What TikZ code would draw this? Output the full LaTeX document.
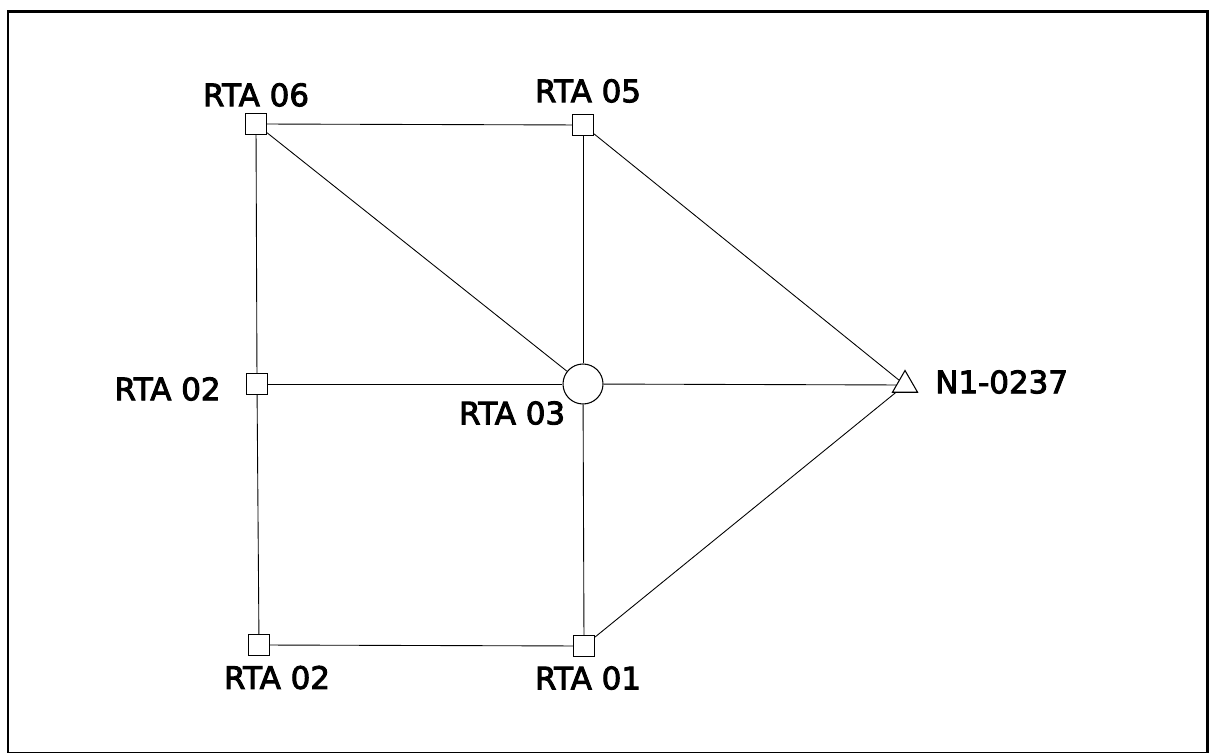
\documentclass[tikz,border=0pt]{standalone}
\usepackage{fontspec}
\setmainfont{DejaVu Sans}
\newfontfamily\tagfont{DejaVu Sans}[FakeBold=3]
\usetikzlibrary{positioning, shapes.geometric}
\tikzset{
  site/.style={draw, fill=white, line width=0.6pt, minimum size=0.42cm, inner sep=0pt},
  hub/.style={draw, circle, fill=white, line width=0.6pt, minimum size=0.8cm, inner sep=0pt},
  gauge/.style={draw, regular polygon, regular polygon sides=3, fill=white, line width=0.6pt, minimum size=0.58cm, inner sep=0pt},
  tag/.style={font=\tagfont\fontsize{17.6}{20}\selectfont, inner sep=0pt},
  link/.style={line width=0.5pt},
}

\begin{document}
\begin{tikzpicture}
    \useasboundingbox (0,0) rectangle (24.26,15.04);
    \draw[line width=1.7pt] (0.16,-0.02) rectangle (24.14,14.8);
    % stations
    \node[site] (r06) at (5.12,12.56) {};
    \node[site] (r05) at (11.66,12.54) {};
    \node[site] (r02) at (5.14,7.36) {};
    \node[hub] (r03) at (11.66,7.36) {};
    \node[gauge] (n1) at (18.1,7.34) {};
    \node[site] (r02b) at (5.18,2.14) {};
    \node[site] (r01) at (11.68,2.12) {};
    % names
    \node[tag, above=0.12cm of r06] (t06) {RTA 06};
    \node[tag, above=0.22cm of r05, xshift=0.1cm] (t05) {RTA 05};
    \node[tag, left=0.5cm of r02, yshift=-0.1cm] (t02) {RTA 02};
    \node[tag, below left=0.05cm and 0.06cm of r03] (t03) {RTA 03};
    \node[tag, right=0.42cm of n1, yshift=0.06cm] (tn1) {N1-0237};
    \node[tag, below=0.19cm of r02b, xshift=0.36cm] (t02b) {RTA 02};
    \node[tag, below=0.18cm of r01, xshift=0.08cm] (t01) {RTA 01};
    % links
    \draw[link] (r06) -- (r05);
    \draw[link] (r06) -- (r02);
    \draw[link] (r06) -- (r03);
    \draw[link] (r05) -- (r03);
    \draw[link] (r05) -- (n1);
    \draw[link] (r02) -- (r03);
    \draw[link] (r03) -- (n1);
    \draw[link] (r02) -- (r02b);
    \draw[link] (r03) -- (r01);
    \draw[link] (r02b) -- (r01);
    \draw[link] (r01) -- (n1);
\end{tikzpicture}
\end{document}
